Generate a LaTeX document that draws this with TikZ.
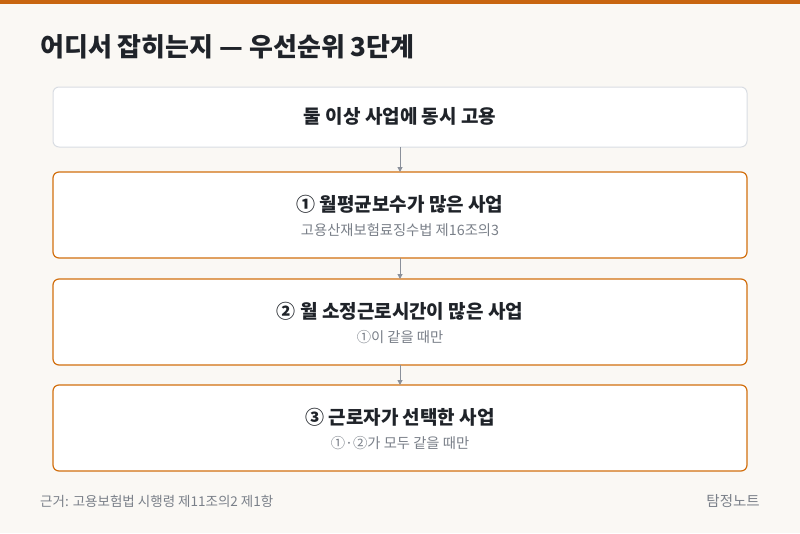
\documentclass[tikz,border=0pt]{standalone}
\usepackage{fontspec}
\setmainfont{Noto Sans CJK KR}
\usetikzlibrary{arrows.meta}
\definecolor{bg}{HTML}{FAF8F4}
\definecolor{topbar}{HTML}{C8650F}
\definecolor{orangeb}{HTML}{D2700F}
\definecolor{grayb}{HTML}{D9DDE3}
\definecolor{ink}{HTML}{1F2329}
\definecolor{subink}{HTML}{7A8089}
\definecolor{arrowc}{HTML}{8A909A}
\tikzset{
  x=1pt, y=-1pt,
  box/.style={draw=orangeb, line width=1.2pt, fill=white, rounded corners=6pt},
  topbox/.style={draw=grayb, line width=1pt, fill=white, rounded corners=6pt},
  maintxt/.style={font=\fontsize{19}{22}\selectfont\bfseries, text=ink, inner sep=0pt},
  subtxt/.style={font=\fontsize{14.3}{17}\selectfont, text=subink, inner sep=0pt},
  conn/.style={draw=arrowc, line width=1pt, -{Triangle[length=5pt,width=5pt]}},
}
\begin{document}
\begin{tikzpicture}
\useasboundingbox (0,0) rectangle (800,533);
\fill[bg] (0,0) rectangle (800,533);
\fill[topbar] (0,0) rectangle (800,4);
\node[anchor=west, inner sep=0pt, font=\fontsize{26}{30}\selectfont\bfseries, text=ink] (title) at (40,47) {어디서 잡히는지 — 우선순위 3단계};

\draw[topbox] (53,87) rectangle (747,147);
\coordinate (b0t) at (400,87); \coordinate (b0b) at (400,147);
\node[maintxt] (t0) at (400,116) {둘 이상 사업에 동시 고용};

\draw[box] (53,172) rectangle (747,258);
\coordinate (b1t) at (400,172); \coordinate (b1b) at (400,258);
\node[maintxt] (t1) at (400,204) {① 월평균보수가 많은 사업};
\node[subtxt] (s1) at (400,230) {고용산재보험료징수법 제16조의3};

\draw[box] (53,279) rectangle (747,365);
\coordinate (b2t) at (400,279); \coordinate (b2b) at (400,365);
\node[maintxt] (t2) at (400,311) {② 월 소정근로시간이 많은 사업};
\node[subtxt] (s2) at (400,337) {①이 같을 때만};

\draw[box] (53,385) rectangle (747,471);
\coordinate (b3t) at (400,385);
\node[maintxt] (t3) at (400,417) {③ 근로자가 선택한 사업};
\node[subtxt] (s3) at (400,443) {①·②가 모두 같을 때만};

\draw[conn] (b0b) -- (b1t);
\draw[conn] (b1b) -- (b2t);
\draw[conn] (b2b) -- (b3t);

\node[anchor=west, subtxt, font=\fontsize{13.5}{16}\selectfont] (foot) at (40,501) {근거: 고용보험법 시행령 제11조의2 제1항};
\node[anchor=east, subtxt, font=\fontsize{14.5}{17}\selectfont] (brand) at (760,501) {탐정노트};
\end{tikzpicture}
\end{document}
